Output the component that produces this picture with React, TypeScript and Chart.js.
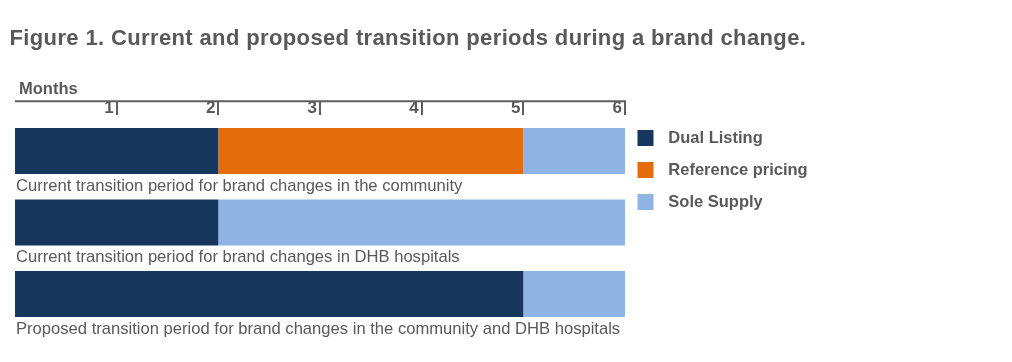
import React, { useEffect, useRef } from 'react';
import { Chart, registerables } from 'chart.js';

Chart.register(...registerables);

// ---- data ----
const chartTitle = 'Figure 1. Current and proposed transition periods during a brand change.';
const axisTitle = 'Months';
const categories = [
  'Current transition period for brand changes in the community',
  'Current transition period for brand changes in DHB hospitals',
  'Proposed transition period for brand changes in the community and DHB hospitals',
];
const seriesNames = ['Dual Listing', 'Reference pricing', 'Sole Supply'];
const dualListing = [2, 2, 5];
const referencePricing = [3, 0, 0];
const soleSupply = [1, 4, 1];
const monthTicks = [1, 2, 3, 4, 5, 6];

// ---- styles ----
const seriesColors = ['#17375E', '#E46C0A', '#8EB4E3'];
const TEXT = '#595959';
const AXIS = '#5E5E5E';
const FONT = '"Liberation Sans", Arial, Helvetica, sans-serif';

const axisLinePlugin = {
  id: 'axisLine',
  afterDraw(chart: any) {
    const xs = chart.scales.x;
    const tl = xs.options.grid.tickLength;
    const ctx = chart.ctx;
    const y = xs.bottom - tl;
    ctx.save();
    ctx.strokeStyle = AXIS;
    ctx.lineWidth = 2;
    ctx.beginPath();
    ctx.moveTo(xs.getPixelForValue(0), y);
    ctx.lineTo(xs.getPixelForValue(xs.max) + 1, y);
    ctx.stroke();
    // axis title, left-aligned just above the axis line
    ctx.fillStyle = TEXT;
    ctx.font = `bold 16.5px ${FONT}`;
    ctx.textAlign = 'left';
    ctx.textBaseline = 'alphabetic';
    ctx.fillText(axisTitle, xs.getPixelForValue(0) + 4, y - 7.6);
    ctx.restore();
  },
};

const categoryLabelPlugin = {
  id: 'categoryLabels',
  afterDatasetsDraw(chart: any) {
    const ctx = chart.ctx;
    const meta = chart.getDatasetMeta(0);
    const labels = chart.data.labels as string[];
    ctx.save();
    ctx.fillStyle = TEXT;
    ctx.font = `16.6px ${FONT}`;
    ctx.textAlign = 'left';
    ctx.textBaseline = 'alphabetic';
    meta.data.forEach((bar: any, i: number) => {
      const { y, height } = bar.getProps(['y', 'height'], true);
      ctx.fillText(labels[i], chart.chartArea.left + 1, y + height / 2 + 16.7);
    });
    ctx.restore();
  },
};

const sideLegendPlugin = {
  id: 'sideLegend',
  afterDraw(chart: any) {
    const ctx = chart.ctx;
    const x0 = chart.chartArea.right + 12.5;
    ctx.save();
    ctx.font = `bold 16.5px ${FONT}`;
    ctx.textAlign = 'left';
    ctx.textBaseline = 'middle';
    chart.data.datasets.forEach((ds: any, i: number) => {
      const top = chart.chartArea.top + 14.75 + i * 32;
      ctx.fillStyle = ds.backgroundColor;
      ctx.fillRect(x0, top, 16, 16);
      ctx.fillStyle = TEXT;
      ctx.fillText(ds.label, x0 + 30.8, top + 8.5);
    });
    ctx.restore();
  },
};

export default function App() {
  const canvasRef = useRef<HTMLCanvasElement | null>(null);

  useEffect(() => {
    const canvas = canvasRef.current;
    if (!canvas) return;
    const seriesValues = [dualListing, referencePricing, soleSupply];
    const chart = new Chart(canvas, {
      type: 'bar',
      data: {
        labels: categories,
        datasets: seriesNames.map((name, i) => ({
          label: name,
          data: seriesValues[i],
          backgroundColor: seriesColors[i],
          borderWidth: 0,
          barPercentage: 0.645,
          categoryPercentage: 1,
        })),
      },
      options: {
        indexAxis: 'y',
        responsive: false,
        animation: false,
        events: [],
        layout: { padding: { top: 77.25, bottom: 24.25, left: 7, right: 379 } },
        plugins: {
          legend: { display: false },
          title: { display: false },
          tooltip: { enabled: false },
        },
        scales: {
          x: {
            type: 'linear',
            position: 'top',
            stacked: true,
            min: 0,
            max: 6,
            afterBuildTicks: (s: any) => {
              s.ticks = monthTicks.map((v) => ({ value: v }));
            },
            afterFit: (s: any) => {
              s.height = 30;
            },
            ticks: {
              stepSize: 1,
              align: 'end',
              labelOffset: -3,
              padding: -14,
              autoSkip: false,
              maxRotation: 0,
              color: TEXT,
              font: { family: FONT, size: 17, weight: 'bold', lineHeight: '14px' },
            },
            grid: {
              display: true,
              drawOnChartArea: false,
              drawTicks: true,
              tickLength: 14,
              lineWidth: 2,
              color: AXIS,
            },
            border: { display: false },
            title: { display: false },
          },
          y: {
            type: 'category',
            stacked: true,
            display: false,
          },
        },
      },
      plugins: [axisLinePlugin, categoryLabelPlugin, sideLegendPlugin],
    } as any);
    return () => chart.destroy();
  }, []);

  return (
    <div style={{ position: 'relative', width: 996, height: 346 }}>
      <canvas
        ref={canvasRef}
        width={996}
        height={346}
        style={{ position: 'absolute', left: 0, top: 0, display: 'block' }}
      />
      <div
        style={{
          position: 'absolute',
          left: 1.5,
          top: 18.4,
          margin: 0,
          whiteSpace: 'nowrap',
          fontFamily: FONT,
          fontWeight: 'bold',
          fontSize: 22,
          letterSpacing: '0.37px',
          lineHeight: '24px',
          color: TEXT,
        }}
      >
        {chartTitle}
      </div>
    </div>
  );
}
